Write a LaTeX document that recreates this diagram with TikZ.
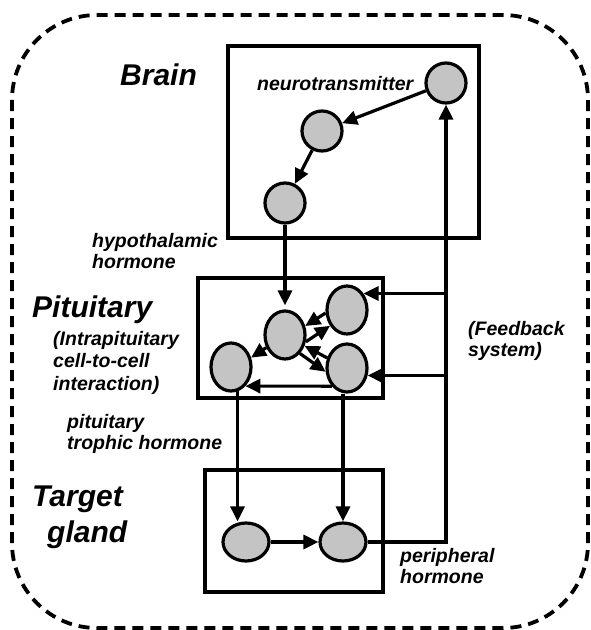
\documentclass[tikz,border=0pt]{standalone}
\usepackage{fontspec}
\setmainfont{Liberation Sans}
\usetikzlibrary{shapes.geometric,arrows.meta}
\definecolor{cellgray}{RGB}{196,196,196}
\begin{document}
\begin{tikzpicture}[x=1pt,y=-1pt,
  cell/.style={ellipse, draw, line width=3.2pt, fill=cellgray, inner sep=0pt},
  bcell/.style={cell, minimum width=40pt, minimum height=40pt},
  pcell/.style={cell, minimum width=40pt, minimum height=48pt},
  tcell/.style={cell, minimum width=46pt, minimum height=38pt},
  arr/.style={line width=3.2pt, -{Triangle[length=15pt,width=14pt]}},
  box/.style={draw, line width=4.2pt},
  outer/.style={draw, line width=3.8pt, dash pattern=on 11pt off 7pt, rounded corners=85pt},
  big/.style={font=\fontsize{30}{36}\selectfont\bfseries\itshape, inner sep=0pt},
  small/.style={font=\fontsize{19.5}{21.5}\selectfont\bfseries\itshape, inner sep=0pt, align=left},
]
\useasboundingbox (0,0) rectangle (590,630);
\draw[outer] (12,15) rectangle (588,628);

% boxes
\draw[box] (228,46) rectangle (479,238);
\draw[box] (198,278) rectangle (383,398);
\draw[box] (205,470) rectangle (383,592);

% cells
\node[bcell] (n1) at (446,83) {};
\node[bcell] (n2) at (322,131) {};
\node[bcell] (n3) at (285,203) {};
\node[pcell] (c) at (285,335) {};
\node[pcell] (ur) at (347,310) {};
\node[pcell] (lr) at (347,368) {};
\node[pcell] (l) at (231,367) {};
\node[tcell] (tl) at (246,542) {};
\node[tcell] (tr) at (343,542) {};

% connectors
\draw[arr] (n1) -- (n2);
\draw[arr] (n2) -- (n3);
\draw[arr, shorten >=4pt] (n3) -- (c);
\draw[arr] (ur.188) -- (c.24);
\draw[arr] (c.342) -- (ur.223);
\draw[arr] (lr.153) -- (c.331);
\draw[arr] (c.309) -- (lr.190);
\draw[arr] (c.214) -- (l.25);
\draw[arr] (lr.230) -- (l.307);
\draw[arr] (n1.south |- ur.45) -- (ur.45);
\draw[arr] (n1.south |- lr.-20) -- (lr.-20);
\draw[arr] (l.-75) -- (l.-75 |- tl.north);
\draw[arr] (tr.north |- lr.south) -- (tr.north);
\draw[arr] (tl) -- (tr);
\draw[arr] (tr.east) -| (n1.south);

% labels
\node[big, anchor=base west] (tbrain) at (120,85) {Brain};
\node[big, anchor=base west] (tpit) at (32,317) {Pituitary};
\node[big, anchor=north west, align=left] (ttarget) at (32,485.5) {Target\\\hspace*{15pt}gland};
\node[small, anchor=base west] (tneuro) at (257,90) {neurotransmitter};
\node[small, anchor=north west] (thypo) at (92,233) {hypothalamic\\hormone};
\node[small, font=\fontsize{19.5}{22.5}\selectfont\bfseries\itshape, anchor=north west] (tintra) at (53,331) {(Intrapituitary\\cell-to-cell\\interaction)};
\node[small, anchor=north west] (ttroph) at (67,414) {pituitary\\trophic hormone};
\node[small, anchor=north west] (tfeed) at (468,321) {(Feedback\\system)};
\node[small, anchor=north west] (tperi) at (400,548) {peripheral\\hormone};
\end{tikzpicture}
\end{document}
